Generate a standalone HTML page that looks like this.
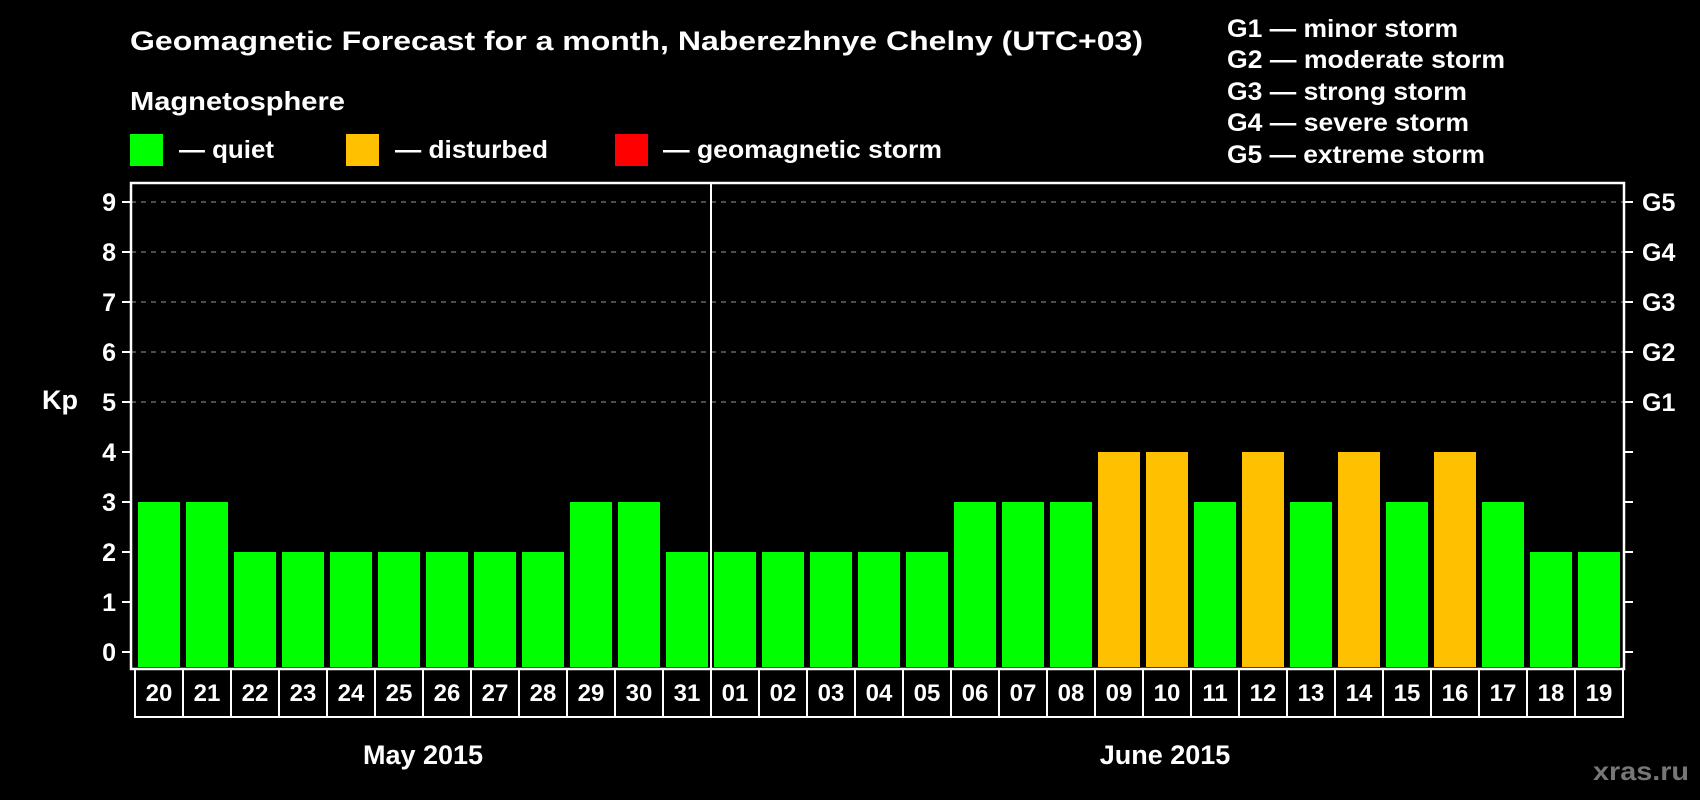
<!DOCTYPE html>
<html><head><meta charset="utf-8"><style>
html,body{margin:0;padding:0;background:#000;}
svg{display:block;font-family:"Liberation Sans",Arial,sans-serif;font-weight:bold;}
</style></head><body>
<svg id="chart" width="1700" height="800" viewBox="0 0 1700 800" xmlns="http://www.w3.org/2000/svg">
<rect width="1700" height="800" fill="#000"/>
<text x="130" y="50" fill="#fff" font-size="27" textLength="1013" lengthAdjust="spacingAndGlyphs">Geomagnetic Forecast for a month, Naberezhnye Chelny (UTC+03)</text>
<text x="130" y="110" fill="#fff" font-size="26" textLength="215" lengthAdjust="spacingAndGlyphs">Magnetosphere</text>
<rect x="130" y="134" width="33" height="32" fill="#00ff00"/>
<text x="179" y="158" fill="#fff" font-size="25" textLength="95" lengthAdjust="spacingAndGlyphs">— quiet</text>
<rect x="346" y="134" width="33" height="32" fill="#ffc000"/>
<text x="395" y="158" fill="#fff" font-size="25" textLength="153" lengthAdjust="spacingAndGlyphs">— disturbed</text>
<rect x="615" y="134" width="33" height="32" fill="#ff0000"/>
<text x="663" y="158" fill="#fff" font-size="25" textLength="279" lengthAdjust="spacingAndGlyphs">— geomagnetic storm</text>
<g fill="#fff" font-size="25">
<text x="1227" y="37" textLength="231" lengthAdjust="spacingAndGlyphs">G1 — minor storm</text>
<text x="1227" y="68" textLength="278" lengthAdjust="spacingAndGlyphs">G2 — moderate storm</text>
<text x="1227" y="100" textLength="240" lengthAdjust="spacingAndGlyphs">G3 — strong storm</text>
<text x="1227" y="131" textLength="242" lengthAdjust="spacingAndGlyphs">G4 — severe storm</text>
<text x="1227" y="163" textLength="258" lengthAdjust="spacingAndGlyphs">G5 — extreme storm</text>
</g>
<text x="42" y="409" fill="#fff" font-size="27">Kp</text>
<text x="423" y="764" fill="#fff" font-size="27" text-anchor="middle">May 2015</text>
<text x="1165" y="764" fill="#fff" font-size="27" text-anchor="middle">June 2015</text>
<text x="1593" y="780" fill="#777" font-size="26" textLength="96" lengthAdjust="spacingAndGlyphs">xras.ru</text>
<g id="plot"></g>
</svg>
<script>
const days = ["20","21","22","23","24","25","26","27","28","29","30","31","01","02","03","04","05","06","07","08","09","10","11","12","13","14","15","16","17","18","19"];
const kpValues = [3,3,2,2,2,2,2,2,2,3,3,2,2,2,2,2,2,3,3,3,4,4,3,4,3,4,3,4,3,2,2];
const yTicks = [0,1,2,3,4,5,6,7,8,9];
const stormLabels = ["G1","G2","G3","G4","G5"];
const stormLevels = [5,6,7,8,9];
const monthBreakIndex = 12;

const NS = "http://www.w3.org/2000/svg";
const g = document.getElementById("plot");
const frameL = 131, frameR = 1624, frameT = 183, frameB = 669;
const cellL = 135, step = 48, barW = 42;
const y = v => 652 - 50 * v;
const xCell = i => cellL + i * step;
function mk(tag, attrs, parent) {
  const e = document.createElementNS(NS, tag);
  for (const k in attrs) e.setAttribute(k, attrs[k]);
  (parent || g).appendChild(e);
  return e;
}
// grid lines
stormLevels.forEach((v) => {
  const l = mk("line", {x1: frameL, x2: frameR, y1: y(v), y2: y(v), stroke: "#999", "stroke-width": 1, "stroke-dasharray": "5,5"});
  
  
});
// bars
kpValues.forEach((v, i) => {
  const color = v >= 5 ? "#ff0000" : (v >= 4 ? "#ffc000" : "#00ff00");
  const top = y(v);
  const r = mk("rect", {x: xCell(i) + 3, y: top, width: barW, height: 667 - top, fill: color});
  
  
});
// frame
const fr = mk("rect", {x: frameL, y: frameT, width: frameR - frameL, height: frameB - frameT, fill: "none", stroke: "#fff", "stroke-width": 2.5});


// month divider
const dv = mk("line", {x1: xCell(monthBreakIndex), x2: xCell(monthBreakIndex), y1: frameT, y2: 717, stroke: "#fff", "stroke-width": 2});


// y ticks + labels
yTicks.forEach(v => {
  const t = mk("line", {x1: 122, x2: frameL, y1: y(v), y2: y(v), stroke: "#fff", "stroke-width": 2});
  
  
  const t2 = mk("line", {x1: frameR, x2: 1633, y1: y(v), y2: y(v), stroke: "#fff", "stroke-width": 2});
  
  
  const tx = mk("text", {x: 116, y: y(v) + 9, fill: "#fff", "font-size": 25, "text-anchor": "end"});
  tx.textContent = v;
  
  
});
stormLabels.forEach((s, i) => {
  const tx = mk("text", {x: 1642, y: stormLevels[i] * -50 + 652 + 9, fill: "#fff", "font-size": 25});
  tx.textContent = s;
  
  
});
// day cells
days.forEach((d, i) => {
  const c = mk("rect", {x: xCell(i), y: frameB, width: step, height: 717 - frameB, fill: "none", stroke: "#fff", "stroke-width": 2});
  
  
  const tx = mk("text", {x: xCell(i) + step / 2, y: 701, fill: "#fff", "font-size": 24, "text-anchor": "middle"});
  tx.textContent = d;
  
  
});
</script>
</body></html>
